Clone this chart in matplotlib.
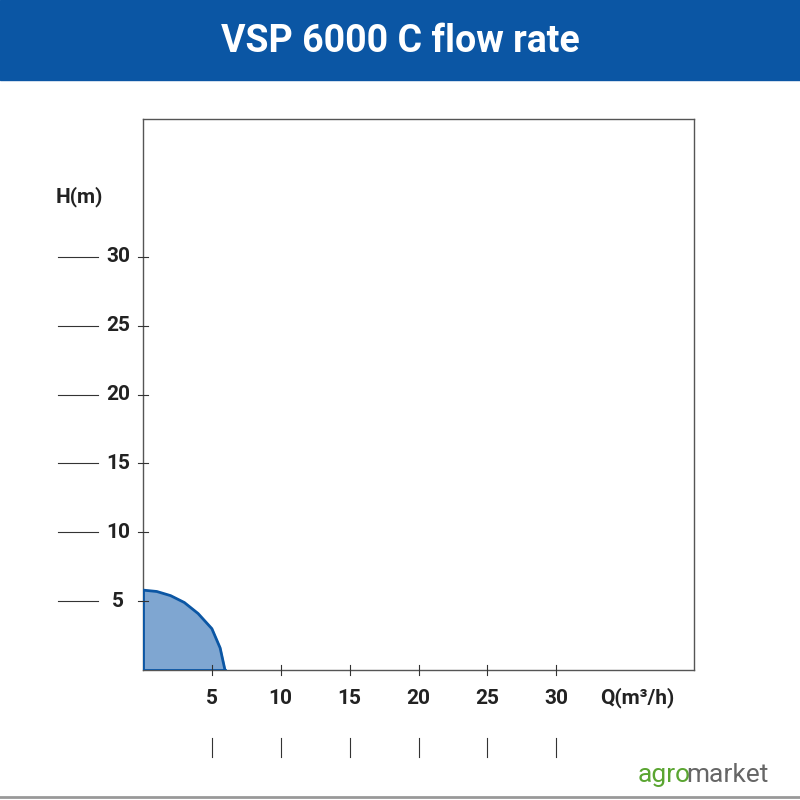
import matplotlib.pyplot as plt
from matplotlib.lines import Line2D

# curve
flow = [0, 1, 2, 3, 4, 5, 5.6, 5.95]
head = [5.8, 5.7, 5.4, 4.9, 4.1, 3.0, 1.6, 0]
x_ticks = [5, 10, 15, 20, 25, 30]
y_ticks = [5, 10, 15, 20, 25, 30]

W = H = 800
fig = plt.figure(figsize=(8, 8), dpi=100)
fig.patch.set_facecolor("white")

def fx(px):
    return px / W

def fy(py):
    return 1 - py / H

# title band
fig.patches.append(plt.Rectangle((0, fy(80)), 1, 80 / H, transform=fig.transFigure,
                                 color="#0b56a4", zorder=0))
fig.text(0.5, fy(42), "VSP 6000 C flow rate", color="white", fontsize=27,
         fontweight="bold", ha="center", va="center", family="Roboto")

ax = fig.add_axes([fx(143), fy(670), (694 - 143) / W, (670 - 119) / H])
ax.set_xlim(0, 40)
ax.set_ylim(0, 40)
ax.set_xticks([])
ax.set_yticks([])
for s in ax.spines.values():
    s.set_color("#555555")
    s.set_linewidth(1)

ax.fill_between(flow, head, 0, color="#7fa6d1", zorder=2)
ax.plot(flow, head, color="#0b56a4", lw=2, zorder=3)
ax.plot([0, 0], [0, head[0]], color="#0b56a4", lw=2, zorder=3)
ax.plot([0, flow[-1]], [0, 0], color="#0b56a4", lw=2, zorder=3)

tr = ax.transData
inv = fig.transFigure.inverted()

def to_fig(x, y):
    return inv.transform(tr.transform((x, y)))

lab = dict(fontsize=15, fontweight="bold", color="#222222", family="Roboto")
for v in y_ticks:
    _, yy = to_fig(0, v)
    fig.lines.append(Line2D([fx(58), fx(98)], [yy, yy], transform=fig.transFigure, color="#333333", lw=0.8))
    fig.lines.append(Line2D([fx(138), fx(148)], [yy, yy], transform=fig.transFigure, color="#333333", lw=0.8))
    fig.text(fx(118), yy, str(v), ha="center", va="center", **lab)
for v in x_ticks:
    xx, _ = to_fig(v, 0)
    fig.lines.append(Line2D([xx, xx], [fy(665), fy(675)], transform=fig.transFigure, color="#333333", lw=0.8))
    fig.lines.append(Line2D([xx, xx], [fy(738), fy(757)], transform=fig.transFigure, color="#333333", lw=0.8))
    fig.text(xx, fy(698), str(v), ha="center", va="center", **lab)

fig.text(fx(56), fy(197), "H(m)", ha="left", va="center", **lab)
fig.text(fx(600), fy(698), "Q(m³/h)", ha="left", va="center", **lab)

# logo
fig.text(fx(638), fy(775), "agro", color="#5aa531", fontsize=19, ha="left", va="center", family="Roboto")
fig.text(fx(686), fy(775), "market", color="#666666", fontsize=19, ha="left", va="center", family="Roboto")
fig.lines.append(Line2D([0, 1], [fy(797), fy(797)], transform=fig.transFigure, color="#999999", lw=2))

fig.savefig("out.png", dpi=100)
